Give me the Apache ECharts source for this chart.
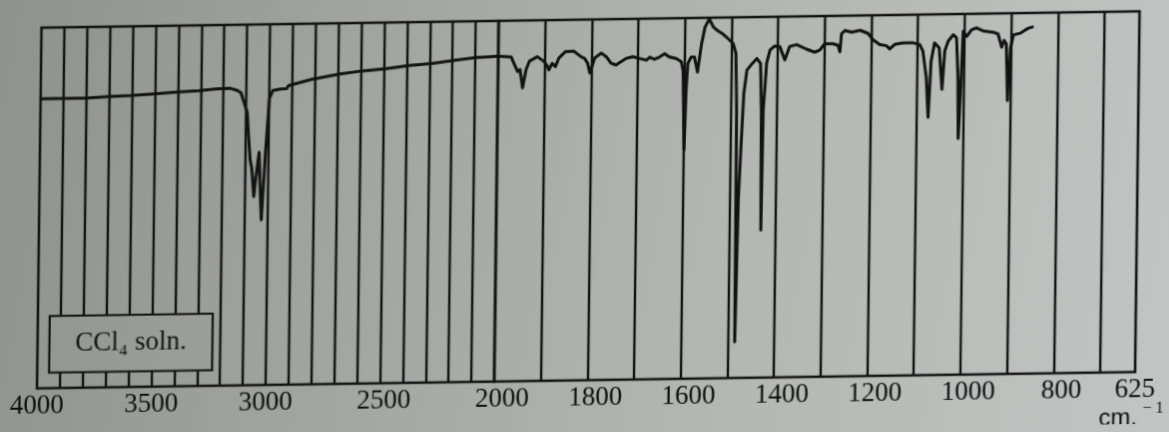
<!DOCTYPE html>
<html>
<head>
<meta charset="utf-8">
<script src="https://cdn.jsdelivr.net/npm/echarts@6/dist/echarts.min.js"></script>
<style>
html,body{margin:0;padding:0;width:1169px;height:432px;overflow:hidden;}
body{background:linear-gradient(100deg,#8f918d 0%,#a2a4a0 30%,#b3b6b3 62%,#c1c5c3 100%);}
#chart{width:1169px;height:432px;transform-origin:0 0;transform:matrix(0.99827,-0.014864,-0.0125,1.00181,1.77,8.235);}
</style>
</head>
<body>
<div id="chart"></div>
<script>
// Wavenumber (cm-1) and transmittance (% of chart height)
const wavenumber = [
  4000,3900,3804,3700,3599,3500,3402,3307,3234,3170,3140,3124,3110,3095,3088,3080,3073,3067,3062,3056,
  3050,3041,3035,3028,3021,3014,3006,2999,2985,2950,2924,2916,2908,2870,2813,2750,2695,2594,2489,2389,
  2288,2183,2095,2040,2000,1972,1965,1958,1953,1947,1940,1933,1916,1901,1894,1891,1884,1877,1870,1856,
  1838,1822,1815,1808,1803,1793,1779,1768,1758,1747,1736,1725,1711,1697,1682,1675,1665,1654,1643,1633,
  1618,1607,1603,1599,1596,1593,1586,1579,1572,1564,1557,1548,1539,1529,1518,1507,1496,1490,1487,1485,
  1481,1477,1472,1466,1455,1445,1437,1434,1432,1430,1424,1417,1407,1396,1385,1375,1360,1339,1321,1310,
  1300,1282,1271,1267,1264,1257,1242,1224,1207,1196,1182,1167,1160,1149,1132,1110,1096,1089,1081,1076,
  1071,1064,1054,1047,1042,1035,1024,1017,1013,1011,1006,1003,995,985,974,960,938,928,920,915,
  910,906,903,901,895,881,870,863,852
];
const transmittance = [
  80.3,80.3,80.3,80.6,80.8,81.2,81.6,81.9,82.3,82.4,81.8,81.2,78.5,75.7,69.1,62.5,60.3,56.0,52.3,56.5,
  59.8,64.5,55.0,45.8,55.0,63.5,71.8,79.3,81.6,82.0,82.1,82.9,82.9,83.7,84.6,85.3,85.9,86.7,87.2,88.0,
  88.5,89.3,89.9,90.1,90.2,89.9,87.8,85.9,86.4,81.3,86.4,88.7,89.9,88.5,87.1,86.2,88.0,87.1,89.4,91.2,
  91.3,89.7,89.3,87.9,85.2,89.3,90.6,89.6,87.8,87.3,88.2,89.1,89.5,89.0,88.5,89.3,88.7,89.3,90.2,89.3,
  88.8,87.9,85.5,63.4,80.0,87.4,89.2,89.2,85.0,92.8,97.4,99.7,97.4,96.3,95.4,94.1,92.7,90.0,74.3,10.0,
  49.4,63.2,78.9,85.3,87.1,88.5,87.1,74.1,40.9,74.1,87.1,90.8,91.9,91.7,88.0,91.7,92.2,90.9,90.0,90.6,
  92.3,92.3,91.8,90.0,95.0,95.9,95.4,95.9,95.0,93.2,91.9,91.5,90.6,91.9,92.2,92.2,91.7,89.9,82.5,71.5,
  87.1,92.1,90.7,79.2,89.8,92.5,94.3,93.4,82.4,65.5,82.3,95.2,93.8,95.6,96.1,95.2,94.8,94.3,90.6,92.5,
  91.5,75.8,75.7,90.3,94.0,94.4,95.3,95.8,96.2
];
// Axis tick labels and grid lines (cm-1)
const leftTickLabels = [4000,3500,3000,2500,2000];
const rightTickLabels = [1800,1600,1400,1200,1000,800,625];
const leftGridLines = [3900,3800,3700,3600,3500,3400,3300,3200,3100,3000,2900,2800,2700,2600,2500,2400,2300,2200,2100];
const rightGridLines = [1900,1800,1700,1600,1500,1400,1300,1200,1100,1000,900,800,700];
// Solvent note box, in data units
const noteBox = {wLeft:3948, wRight:3235, top:20, bottom:4.3, text:'CCl₄ soln.'};

const ink = '#121212';
const leftData = [], rightData = [];
wavenumber.forEach((w,i)=>{
  if (w >= 2000) leftData.push([w, transmittance[i]]);
  if (w <= 2000) rightData.push([w, transmittance[i]]);
});

const leftLines = [];
leftGridLines.forEach(w=>{
  if (w <= noteBox.wLeft && w >= noteBox.wRight) {
    leftLines.push([{coord:[w,100]},{coord:[w,noteBox.top]}]);
    leftLines.push([{coord:[w,noteBox.bottom]},{coord:[w,0]}]);
  } else {
    leftLines.push([{coord:[w,100]},{coord:[w,0]}]);
  }
});
const rightLines = rightGridLines.map(w=>[{coord:[w,100]},{coord:[w,0]}]);

const lineMark = (data)=>({
  silent:true, z:1, symbol:['none','none'], animation:false,
  label:{show:false}, emphasis:{disabled:true},
  lineStyle:{color:ink, width:2.4, type:'solid'},
  data:data
});

// label nudges (the printed labels sit a little right of their lines)
const tokenFont = {fontFamily:'Liberation Serif', fontSize:27, color:'#0e0e0e'};
const labelRich = {
  p0: Object.assign({}, tokenFont),
  p8: Object.assign({padding:[0,0,0,8]}, tokenFont),
  p16: Object.assign({padding:[0,0,0,16]}, tokenFont)
};
const nudge = (v)=> (v===625 || v>=3000) ? 'p0' : (v===2500 ? 'p8' : 'p16');
const labelStyle = Object.assign({margin:4, rich:labelRich,
  formatter:(v)=>'{'+nudge(v)+'|'+v+'}'}, tokenFont);

const chart = echarts.init(document.getElementById('chart'));
chart.setOption({
  animation:false,
  backgroundColor:'transparent',
  grid:[
    {left:40, top:20, width:458, height:360, show:true, borderColor:ink, borderWidth:2.6, backgroundColor:'transparent'},
    {left:498, top:20, width:642, height:360, show:true, borderColor:ink, borderWidth:2.6, backgroundColor:'transparent'}
  ],
  xAxis:[
    {gridIndex:0, type:'value', min:2000, max:4000, inverse:true,
     axisLine:{show:false}, axisTick:{show:false}, splitLine:{show:false},
     axisLabel:Object.assign({customValues:leftTickLabels}, labelStyle)},
    {gridIndex:1, type:'value', min:625, max:2000, inverse:true,
     axisLine:{show:false}, axisTick:{show:false}, splitLine:{show:false},
     axisLabel:Object.assign({customValues:rightTickLabels}, labelStyle)}
  ],
  yAxis:[
    {gridIndex:0, type:'value', min:0, max:100, show:false},
    {gridIndex:1, type:'value', min:0, max:100, show:false}
  ],
  series:[
    {type:'line', xAxisIndex:0, yAxisIndex:0, data:[], markLine:lineMark(leftLines),
     markArea:{silent:true, z:2,
       itemStyle:{color:'rgba(0,0,0,0)', borderColor:ink, borderWidth:2.2},
       label:{show:true, position:'inside', formatter:noteBox.text,
         fontFamily:'Liberation Serif', fontSize:27, color:ink},
       data:[[{coord:[noteBox.wLeft,noteBox.top]},{coord:[noteBox.wRight,noteBox.bottom]}]]}},
    {type:'line', xAxisIndex:1, yAxisIndex:1, data:[], markLine:lineMark(rightLines)},
    {type:'line', xAxisIndex:0, yAxisIndex:0, data:leftData, z:10, showSymbol:false, clip:false,
     lineStyle:{color:ink, width:3, join:'round'}, silent:true},
    {type:'line', xAxisIndex:1, yAxisIndex:1, data:rightData, z:10, showSymbol:false, clip:false,
     lineStyle:{color:ink, width:3, join:'round'}, silent:true}
  ],
  graphic:[
    {type:'text', left:1104, top:414, style:{text:'cm.', fill:'#0e0e0e', font:'24px "Liberation Sans"'}},
    {type:'text', left:1148, top:409, style:{text:'− 1', fill:'#0e0e0e', font:'16px "Liberation Serif"'}}
  ]
});
</script>
</body>
</html>
